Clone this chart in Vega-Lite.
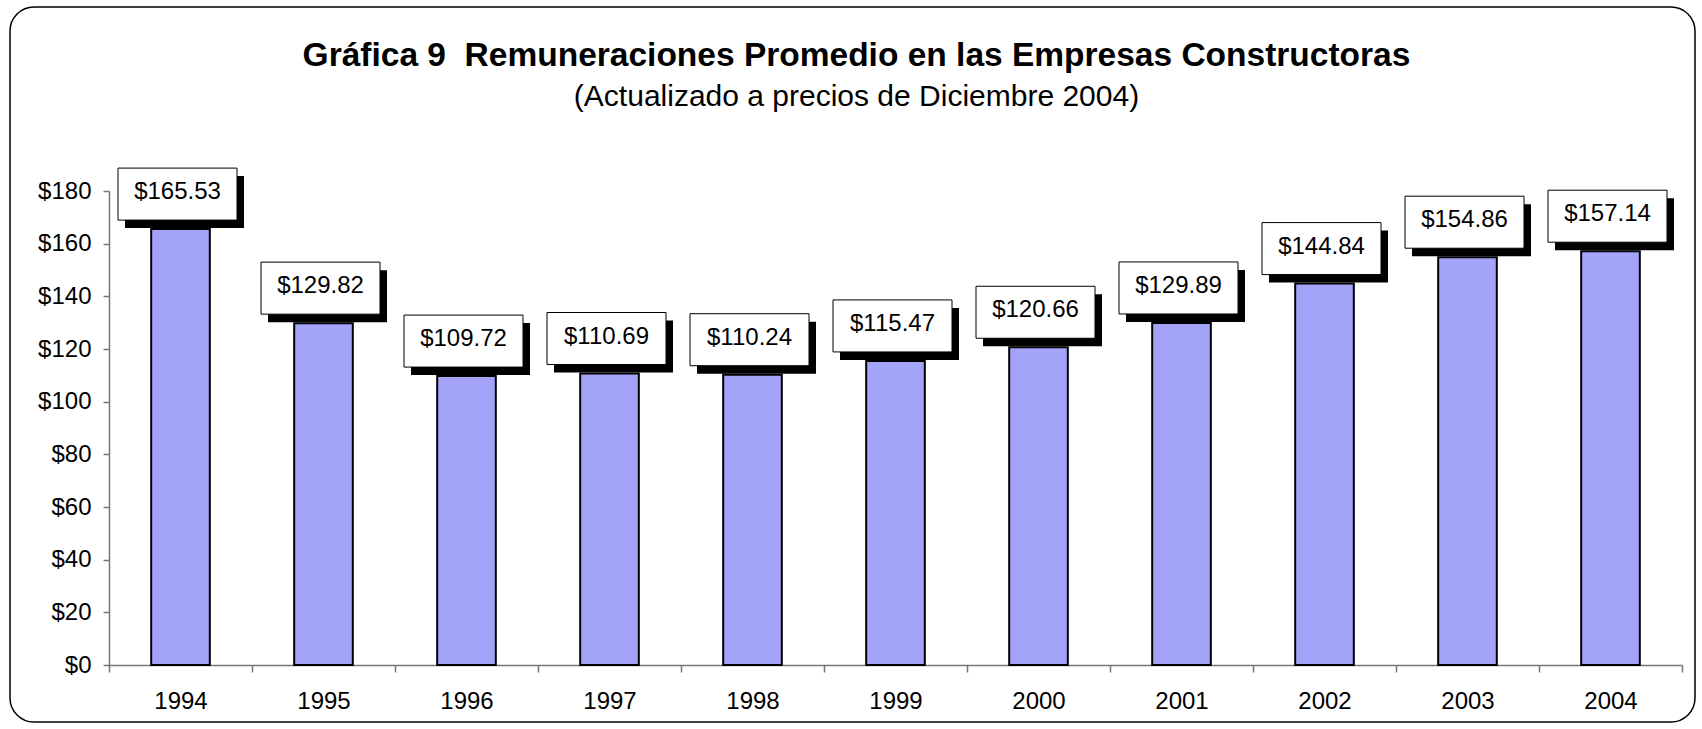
{
  "$schema": "https://vega.github.io/schema/vega-lite/v6.json",
  "width": 1685,
  "height": 715,
  "autosize": "none",
  "padding": {"left": 10, "top": 7, "right": 7, "bottom": 7},
  "background": "white",
  "config": {
    "view": {"stroke": "black", "strokeWidth": 1.5, "cornerRadius": 24, "fill": "white"},
    "font": "Liberation Sans"
  },
  "title": {
    "text": "Gráfica 9\u00a0 Remuneraciones Promedio en las Empresas Constructoras",
    "subtitle": "(Actualizado a precios de Diciembre 2004)",
    "font": "Liberation Sans",
    "fontSize": 33.5,
    "fontWeight": "bold",
    "color": "black",
    "subtitleFont": "Liberation Sans",
    "subtitleFontSize": 30,
    "subtitleColor": "black",
    "subtitlePadding": 9,
    "offset": -106,
    "anchor": "middle",
    "frame": "group",
    "dx": 4
  },
  "data": {
    "values": [
      {"year": "1994", "value": 165.53},
      {"year": "1995", "value": 129.82},
      {"year": "1996", "value": 109.72},
      {"year": "1997", "value": 110.69},
      {"year": "1998", "value": 110.24},
      {"year": "1999", "value": 115.47},
      {"year": "2000", "value": 120.66},
      {"year": "2001", "value": 129.89},
      {"year": "2002", "value": 144.84},
      {"year": "2003", "value": 154.86},
      {"year": "2004", "value": 157.14}
    ]
  },
  "encoding": {
    "x": {
      "field": "year",
      "type": "ordinal",
      "scale": {"range": [99, 1672], "paddingInner": 0, "paddingOuter": 0},
      "axis": {
        "title": null,
        "labelAngle": 0,
        "labelFont": "Liberation Sans",
        "labelFontSize": 24,
        "labelColor": "black",
        "tickBand": "extent",
        "tickSize": 7,
        "labelPadding": 17,
        "domainColor": "#777777",
        "tickColor": "#777777",
        "domainWidth": 1.5,
        "tickWidth": 1.5,
        "offset": -57,
        "grid": false
      }
    },
    "y": {
      "field": "value",
      "type": "quantitative",
      "scale": {"domain": [0, 180], "range": [658, 184], "nice": false, "zero": true},
      "axis": {
        "title": null,
        "values": [0, 20, 40, 60, 80, 100, 120, 140, 160, 180],
        "format": "$.0f",
        "labelFont": "Liberation Sans",
        "labelFontSize": 24,
        "labelColor": "black",
        "tickSize": 6,
        "labelPadding": 12,
        "domainColor": "#777777",
        "tickColor": "#777777",
        "domainWidth": 1.5,
        "tickWidth": 1.5,
        "offset": -99,
        "grid": false
      }
    }
  },
  "layer": [
    {
      "mark": {"type": "bar", "width": {"band": 0.41}, "fill": "#a3a3f8", "stroke": "black", "strokeWidth": 2}
    },
    {
      "mark": {
        "type": "point",
        "shape": "M-1,-0.437L1,-0.437L1,0.437L-1,0.437Z",
        "size": 14161,
        "filled": true,
        "fill": "black",
        "strokeWidth": 0,
        "opacity": 1,
        "xOffset": 4,
        "yOffset": -27
      }
    },
    {
      "mark": {
        "type": "point",
        "shape": "M-1,-0.437L1,-0.437L1,0.437L-1,0.437Z",
        "size": 14161,
        "filled": true,
        "fill": "white",
        "stroke": "black",
        "strokeWidth": 1,
        "opacity": 1,
        "xOffset": -3,
        "yOffset": -35
      }
    },
    {
      "mark": {
        "type": "text",
        "font": "Liberation Sans",
        "fontSize": 24,
        "color": "black",
        "align": "center",
        "baseline": "middle",
        "xOffset": -3,
        "yOffset": -37
      },
      "encoding": {
        "text": {"field": "value", "type": "quantitative", "format": "$.2f"}
      }
    }
  ]
}
